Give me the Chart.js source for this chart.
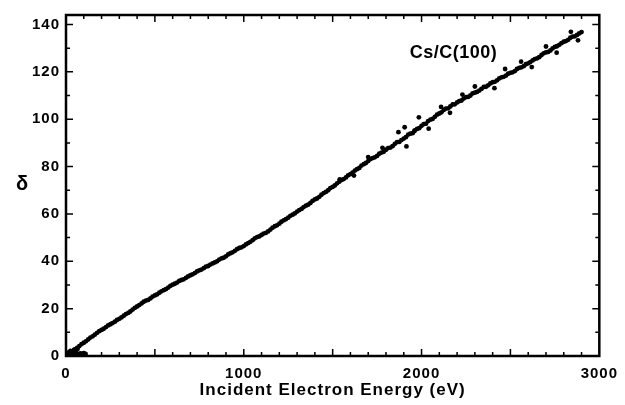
<!DOCTYPE html>
<html>
<head>
<meta charset="utf-8">
<script src="https://cdn.jsdelivr.net/npm/chart.js@4/dist/chart.umd.min.js"></script>
<style>
  html, body { margin:0; padding:0; background:#fff; }
  #wrap { width:625px; height:405px; }
</style>
</head>
<body>
<div id="wrap"><canvas id="c" width="625" height="405"></canvas></div>
<script>
// tick labels
const xTicks = [0, 1000, 2000, 3000];
const yTicks = [0, 20, 40, 60, 80, 100, 120, 140];

// first sweep
const energy = [0,25,50,75,100,125,150,175,200,225,250,275,300,325,350,375,400,425,450,475,
  500,525,550,575,600,625,650,675,700,725,750,775,800,825,850,875,900,925,950,975,
  1000,1025,1050,1075,1100,1125,1150,1175,1200,1225,1250,1275,1300,1325,1350,1375,1400,1425,1450,1475,
  1500,1525,1550,1575,1600,1625,1650,1675,1700,1725,1750,1775,1800,1825,1850,1875,1900,1925,1950,1975,
  2000,2025,2050,2075,2100,2125,2150,2175,2200,2225,2250,2275,2300,2325,2350,2375,2400,2425,2450,2475,
  2500,2525,2550,2575,2600,2625,2650,2675,2700,2725,2750,2775,2800,2825,2850,2875,2900];
const delta = [0,1.3,2.8,4.2,5.6,7.0,8.3,9.8,11.0,12.2,13.4,14.5,15.7,17.0,18.2,19.6,20.9,22.2,23.4,24.3,
  25.6,26.7,27.8,28.9,30.1,31.0,32.1,33.0,34.1,35.0,36.2,37.1,38.0,39.1,40.0,41.2,42.1,43.4,44.4,45.6,
  46.4,47.7,48.9,50.2,51.1,52.0,53.4,54.8,55.9,57.3,58.4,59.7,61.0,62.1,63.5,64.6,66.1,67.2,68.8,70.0,
  71.4,72.9,74.3,75.4,76.8,78.3,79.4,81.0,82.3,83.6,84.5,85.9,87.1,88.0,89.6,90.4,91.8,93.5,94.1,95.9,
  97.2,98.1,99.8,101.0,102.4,103.9,104.6,106.2,107.1,107.9,109.3,110.0,111.2,112.1,113.6,114.3,115.6,116.4,117.7,118.4,
  119.6,120.3,121.7,122.4,123.6,124.8,125.7,127.1,128.2,129.0,130.5,131.4,132.7,133.5,134.9,135.6,136.8];

// second sweep, in between
const energy2 = [12,37,62,87,112,137,162,187,212,237,262,287,312,337,362,387,412,437,462,487,
  512,537,562,587,612,637,662,687,712,737,762,787,812,837,862,887,912,937,962,987,
  1012,1037,1062,1087,1112,1137,1162,1187,1212,1237,1262,1287,1312,1337,1362,1387,1412,1437,1462,1487,
  1512,1537,1562,1587,1612,1637,1662,1687,1712,1737,1762,1787,1812,1837,1862,1887,1912,1937,1962,1987,
  2012,2037,2062,2087,2112,2137,2162,2187,2212,2237,2262,2287,2312,2337,2362,2387,2412,2437,2462,2487,
  2512,2537,2562,2587,2612,2637,2662,2687,2712,2737,2762,2787,2812,2837,2862,2887];
const delta2 = [0.6,2.1,3.4,5.0,6.2,7.8,9.0,10.5,11.5,12.9,13.9,15.2,16.3,17.7,18.8,20.3,21.5,22.9,23.7,25.1,
  26.0,27.3,28.2,29.6,30.5,31.7,32.4,33.6,34.5,35.7,36.5,37.7,38.6,39.5,40.7,41.5,42.9,43.8,45.1,45.9,
  47.1,48.2,49.7,50.5,51.7,52.6,54.2,55.2,56.7,57.8,59.2,60.2,61.6,62.9,63.9,65.5,66.5,68.1,69.3,70.9,
  72.0,73.6,74.7,76.3,77.4,78.9,80.4,81.5,83.1,83.9,85.4,86.2,87.8,88.6,90.3,91.2,92.4,93.9,95.3,96.2,
  97.9,99.2,100.1,101.9,102.9,104.5,105.4,106.3,107.6,108.7,109.4,110.9,111.5,112.8,113.7,115.1,115.8,117.2,117.9,119.2,
  119.8,121.2,121.9,123.2,124.1,125.4,126.2,127.8,128.4,129.9,130.8,132.1,133.0,134.4,135.0,136.2];

// scattered points off the trend
const strayEnergy = [1540,1620,1700,1780,1870,1905,1915,1960,1985,2040,2110,2160,2230,2300,2410,2470,2560,2620,2700,2760,2840,2880];
const strayDelta  = [74.6,76.2,84.0,87.9,94.5,96.6,88.5,95.0,100.8,96.0,105.2,102.7,110.4,113.8,113.1,121.2,124.3,122.0,130.7,128.1,136.9,133.3];

// dense low-energy start
const lowEnergy = [10,20,30,40,50,60,70,80,90,100,110,25,45,65,15,35,55];
const lowDelta  = [0.4,0.6,0.8,0.7,0.9,1.0,0.8,1.1,0.9,1.2,0.9,2.2,2.6,3.0,1.5,1.8,2.1];

const toPts = (xs, ys) => xs.map((x,i) => ({x:x, y:ys[i]}));

const FONT = "'Liberation Sans', Arial, sans-serif";

const frame = {
  id: 'frame',
  beforeDraw(chart){
    chart.ctx.letterSpacing = '1px';
  },
  afterDatasetsDraw(chart){
    const {ctx, chartArea:a, scales:{x, y}} = chart;
    ctx.save();
    ctx.letterSpacing = '0px';
    ctx.strokeStyle = '#000';
    ctx.lineWidth = 2.5;
    ctx.strokeRect(a.left, a.top, a.right - a.left, a.bottom - a.top);
    ctx.lineWidth = 1.5;
    ctx.beginPath();
    for(let v = 100; v < 3000; v += 100){
      const px = x.getPixelForValue(v);
      const len = v % 500 === 0 ? 7 : 4;
      ctx.moveTo(px, a.bottom); ctx.lineTo(px, a.bottom - len);
      ctx.moveTo(px, a.top); ctx.lineTo(px, a.top + len);
    }
    for(let v = 10; v < 144; v += 10){
      const py = y.getPixelForValue(v);
      const len = v % 20 === 0 ? 7 : 4;
      ctx.moveTo(a.left, py); ctx.lineTo(a.left + len, py);
      ctx.moveTo(a.right, py); ctx.lineTo(a.right - len, py);
    }
    ctx.stroke();

    ctx.fillStyle = '#000';
    ctx.font = 'bold 20px ' + FONT;
    ctx.textAlign = 'center';
    ctx.textBaseline = 'middle';
    ctx.fillText('δ', 22, 184);

    ctx.font = 'bold 18px ' + FONT;
    ctx.letterSpacing = '0.5px';
    ctx.fillText('Cs/C(100)', x.getPixelForValue(2180), y.getPixelForValue(128));
    ctx.restore();
  }
};

const pointStyle = { backgroundColor:'#000', borderWidth:0, pointRadius:2.4, pointHoverRadius:2.4 };

new Chart(document.getElementById('c'), {
  type: 'scatter',
  data: {
    datasets: [
      Object.assign({ data: toPts(energy, delta) }, pointStyle),
      Object.assign({ data: toPts(energy2, delta2) }, pointStyle),
      Object.assign({ data: toPts(strayEnergy, strayDelta) }, pointStyle),
      Object.assign({ data: toPts(lowEnergy, lowDelta) }, pointStyle)
    ]
  },
  options: {
    responsive: false,
    animation: false,
    events: [],
    layout: { padding: { left:0, top:15, right:22, bottom:0 } },
    plugins: { legend: { display:false }, tooltip: { enabled:false } },
    scales: {
      x: {
        type: 'linear', min: 0, max: 3000,
        afterBuildTicks: s => { s.ticks = xTicks.map(v => ({value:v})); },
        afterFit: s => { s.height = 49; },
        grid: { display:false, drawTicks:false },
        border: { display:false },
        ticks: { color:'#000', padding:9, maxRotation:0, callback: v => String(v),
                 font:{ family:FONT, size:15, weight:'bold' } },
        title: { display:true, text:'Incident Electron Energy (eV)', color:'#000',
                 padding:{ top:0, bottom:4 }, font:{ family:FONT, size:17, weight:'bold' } }
      },
      y: {
        type: 'linear', min: 0, max: 144,
        afterBuildTicks: s => { s.ticks = yTicks.map(v => ({value:v})); },
        afterFit: s => { s.width = 66; },
        grid: { display:false, drawTicks:false },
        border: { display:false },
        ticks: { color:'#000', padding:6, callback: v => String(v),
                 font:{ family:FONT, size:15, weight:'bold' } }
      }
    }
  },
  plugins: [frame]
});
</script>
</body>
</html>
